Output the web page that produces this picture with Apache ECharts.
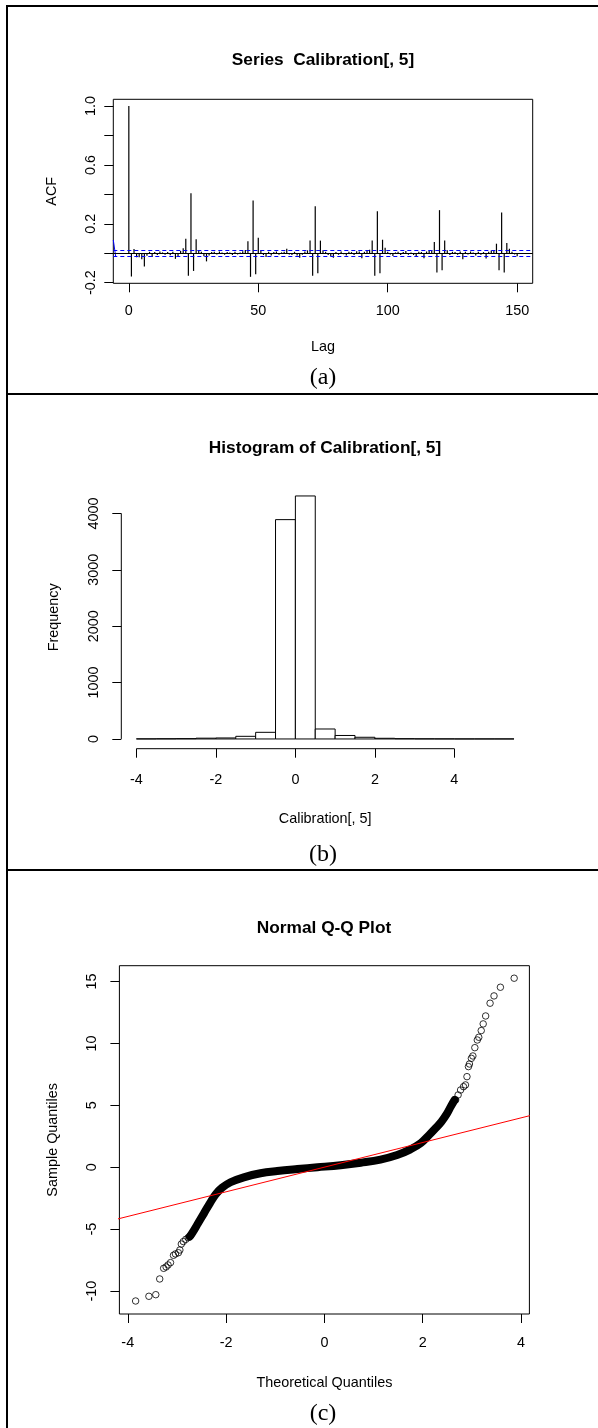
<!DOCTYPE html>
<html>
<head>
<meta charset="utf-8">
<title>Calibration[, 5]: ACF, histogram, normal Q-Q</title>
<script src="https://cdn.jsdelivr.net/npm/echarts@6/dist/echarts.min.js"></script>
<style>
  html, body { margin: 0; padding: 0; background: #fff; }
  #chart { width: 598px; height: 1428px; }
</style>
</head>
<body>
<div id="chart"></div>
<script>
// ---------- data ----------

// (a) autocorrelation, lags 0..150
const acfValues = [
  1.000, -0.158, 0.029, -0.027, -0.027, -0.040, -0.090, -0.016, 0.010, -0.025,
  0.008, -0.012, 0.012, 0.006, -0.010, 0.009, -0.014, 0.011, -0.038, -0.018,
  0.015, 0.034, 0.099, -0.153, 0.407, -0.120, 0.095, 0.022, 0.010, -0.020,
  -0.055, -0.015, 0.008, 0.010, -0.008, 0.012, 0.006, -0.010, 0.009, 0.005,
  -0.012, 0.010, -0.008, 0.006, 0.014, 0.022, 0.081, -0.160, 0.358, -0.142,
  0.106, 0.020, -0.012, -0.025, 0.010, -0.015, 0.008, 0.012, -0.010, 0.006,
  0.010, 0.030, -0.008, -0.012, 0.010, -0.015, -0.030, -0.010, 0.012, 0.020,
  0.086, -0.153, 0.320, -0.135, 0.086, 0.020, 0.010, -0.012, -0.018, -0.030,
  0.008, -0.010, 0.012, -0.006, -0.015, 0.010, 0.008, -0.012, 0.014, 0.012,
  -0.034, 0.010, 0.015, 0.024, 0.086, -0.153, 0.286, -0.135, 0.092, 0.038,
  0.010, -0.008, -0.018, 0.006, 0.010, -0.012, 0.008, 0.015, -0.010, 0.006,
  -0.012, -0.025, 0.010, 0.008, -0.034, 0.012, 0.018, 0.022, 0.077, -0.131,
  0.293, -0.115, 0.086, 0.020, -0.012, 0.010, 0.008, -0.010, 0.012, -0.040,
  0.010, -0.008, 0.012, 0.006, -0.015, 0.010, -0.010, 0.008, -0.036, 0.010,
  0.018, 0.022, 0.065, -0.115, 0.277, -0.131, 0.070, 0.030, 0.010, -0.008,
  -0.020
];
const acfXTicks = [0, 50, 100, 150];
const acfYTicks = [-0.2, 0, 0.2, 0.4, 0.6, 0.8, 1.0];
const acfYLabels = [-0.2, 0.2, 0.6, 1.0];
const acfConfLimit = 0.019;
const acfStub = [[-6, 0.09], [-5.1, -0.02]];

// (b) histogram
const histBreaks = [-4, -3.5, -3, -2.5, -2, -1.5, -1, -0.5, 0, 0.5, 1, 1.5, 2, 2.5, 3, 3.5, 4, 4.5, 5, 5.5];
const histCounts = [2, 4, 6, 14, 18, 47, 118, 3890, 4310, 177, 62, 30, 12, 5, 3, 2, 1, 1, 1];
const histXTicks = [-4, -2, 0, 2, 4];
const histYTicks = [0, 1000, 2000, 3000, 4000];

// (c) normal Q-Q: [theoretical, sample]
const qqLowTail = [
  [-3.84, -10.80], [-3.57, -10.42], [-3.43, -10.29], [-3.35, -9.02], [-3.27, -8.16],
  [-3.22, -8.05], [-3.18, -7.89], [-3.13, -7.70], [-3.07, -7.11], [-3.03, -7.00],
  [-2.97, -6.90], [-2.94, -6.68], [-2.91, -6.20], [-2.87, -6.00], [-2.82, -5.82],
  [-2.77, -5.68], [-2.72, -5.52]
];
const qqBand = [
  [-2.74, -5.60], [-2.69, -5.32], [-2.57, -4.52], [-2.45, -3.72], [-2.33, -2.91],
  [-2.21, -2.18], [-2.08, -1.65], [-1.91, -1.21], [-1.64, -0.81], [-1.30, -0.48],
  [-0.96, -0.30], [-0.55, -0.14], [-0.14, 0.00], [0.33, 0.17], [0.74, 0.37],
  [1.14, 0.62], [1.48, 0.99], [1.75, 1.45], [1.96, 1.95], [2.13, 2.61],
  [2.26, 3.15], [2.38, 3.68], [2.49, 4.31], [2.57, 4.90], [2.65, 5.44]
];
const qqHighTail = [
  [2.67, 5.44], [2.72, 5.84], [2.77, 6.24], [2.83, 6.51], [2.87, 6.65],
  [2.90, 7.32], [2.93, 8.13], [2.95, 8.34], [2.99, 8.80], [3.02, 8.99],
  [3.06, 9.66], [3.11, 10.28], [3.14, 10.50], [3.19, 11.04], [3.23, 11.58],
  [3.28, 12.22], [3.37, 13.25], [3.45, 13.84], [3.58, 14.54], [3.86, 15.27]
];
const qqLine = [[-4.2, -4.17], [4.2, 4.19]];
const qqXTicks = [-4, -2, 0, 2, 4];
const qqYTicks = [-10, -5, 0, 5, 10, 15];

// ---------- chart ----------
const sans = 'Liberation Sans, Arial, Helvetica, sans-serif';
const serif = 'Liberation Serif, Times New Roman, serif';
const axisFont = 14.4;

// plot regions (R extends each data range by 4%)
const acfX = [-6, 156], acfY = [-0.204, 1.046];
const histX = [-4.38, 5.88], histY = [-172.6, 4486.6];
const qqX = [-4.17, 4.17], qqY = [-11.85, 16.28];

function rAxis(grid, range, ticks, labels, margin, rotate, name, nameGap, fmt) {
  return {
    type: 'value',
    gridIndex: grid,
    min: range[0],
    max: range[1],
    axisLine: { show: false, onZero: false },
    splitLine: { show: false },
    axisTick: { show: true, length: 9, customValues: ticks, lineStyle: { color: '#000', width: 1 } },
    axisLabel: {
      customValues: labels,
      margin: margin,
      rotate: rotate,
      color: '#000',
      fontSize: axisFont,
      fontFamily: sans,
      formatter: fmt || (v => String(v))
    },
    name: name,
    nameLocation: 'middle',
    nameGap: nameGap,
    nameTextStyle: { color: '#000', fontSize: axisFont, fontFamily: sans }
  };
}

const chart = echarts.init(document.getElementById('chart'), null, { renderer: 'canvas' });

const option = {
  animation: false,
  backgroundColor: '#fff',
  grid: [
    { left: 113.3, top: 99.3, width: 419.4, height: 184, show: true, borderColor: '#000', borderWidth: 1, backgroundColor: 'transparent', outerBoundsMode: 'none' },
    { left: 121.3, top: 486, width: 407.8, height: 262.7, show: false, outerBoundsMode: 'none' },
    { left: 119.4, top: 965.7, width: 410, height: 348.3, show: true, borderColor: '#000', borderWidth: 1, backgroundColor: 'transparent', outerBoundsMode: 'none' }
  ],
  xAxis: [
    rAxis(0, acfX, acfXTicks, acfXTicks, 21, 0, 'Lag', 57),
    rAxis(1, histX, histXTicks, histXTicks, 24, 0, 'Calibration[, 5]', 63),
    rAxis(2, qqX, qqXTicks, qqXTicks, 22, 0, 'Theoretical Quantiles', 62)
  ],
  yAxis: [
    rAxis(0, acfY, acfYTicks, acfYLabels, 15, 90, 'ACF', 54, v => v.toFixed(1)),
    rAxis(1, histY, histYTicks, histYTicks, 20, 90, 'Frequency', 60),
    rAxis(2, qqY, qqYTicks, qqYTicks, 20, 90, 'Sample Quantiles', 59)
  ],
  graphic: [
    // frame and separators
    { type: 'line', shape: { x1: 6, y1: 6, x2: 598, y2: 6 }, style: { stroke: '#000', lineWidth: 2 } },
    { type: 'line', shape: { x1: 7, y1: 6, x2: 7, y2: 1428 }, style: { stroke: '#000', lineWidth: 2 } },
    { type: 'line', shape: { x1: 7, y1: 394, x2: 598, y2: 394 }, style: { stroke: '#000', lineWidth: 2 } },
    { type: 'line', shape: { x1: 7, y1: 870, x2: 598, y2: 870 }, style: { stroke: '#000', lineWidth: 2 } },
    // plot titles
    { type: 'text', x: 323, y: 60, style: { text: 'Series  Calibration[, 5]', align: 'center', verticalAlign: 'middle', font: 'bold 17.3px ' + sans, fill: '#000' } },
    { type: 'text', x: 325, y: 448, style: { text: 'Histogram of Calibration[, 5]', align: 'center', verticalAlign: 'middle', font: 'bold 17.3px ' + sans, fill: '#000' } },
    { type: 'text', x: 324, y: 928, style: { text: 'Normal Q-Q Plot', align: 'center', verticalAlign: 'middle', font: 'bold 17.3px ' + sans, fill: '#000' } },
    // panel captions
    { type: 'text', x: 323, y: 378, style: { text: '(a)', align: 'center', verticalAlign: 'middle', font: '24px ' + serif, fill: '#000' } },
    { type: 'text', x: 323, y: 855, style: { text: '(b)', align: 'center', verticalAlign: 'middle', font: '24px ' + serif, fill: '#000' } },
    { type: 'text', x: 323, y: 1414, style: { text: '(c)', align: 'center', verticalAlign: 'middle', font: '24px ' + serif, fill: '#000' } }
  ],
  series: [
    // (a) ACF spikes with zero line and confidence bounds
    {
      type: 'bar',
      xAxisIndex: 0,
      yAxisIndex: 0,
      data: acfValues.map((v, lag) => [lag, v]),
      barWidth: 1.2,
      itemStyle: { color: '#000' },
      markLine: {
        silent: true,
        symbol: ['none', 'none'],
        label: { show: false },
        animation: false,
        data: [
          { yAxis: 0, lineStyle: { color: '#000', type: 'solid', width: 1 } },
          { yAxis: acfConfLimit, lineStyle: { color: '#0000ff', type: [4, 3], width: 1 } },
          { yAxis: -acfConfLimit, lineStyle: { color: '#0000ff', type: [4, 3], width: 1 } }
        ]
      }
    },
    {
      type: 'line',
      xAxisIndex: 0,
      yAxisIndex: 0,
      data: acfStub,
      showSymbol: false,
      lineStyle: { color: '#0000ff', width: 1 }
    },
    // (b) histogram bars
    {
      type: 'custom',
      xAxisIndex: 1,
      yAxisIndex: 1,
      data: histCounts.map((c, i) => [histBreaks[i], histBreaks[i + 1], c]),
      encode: { x: [0, 1], y: 2 },
      renderItem: function (params, api) {
        const p0 = api.coord([api.value(0), 0]);
        const p1 = api.coord([api.value(1), api.value(2)]);
        return {
          type: 'rect',
          shape: { x: p0[0], y: p1[1], width: p1[0] - p0[0], height: p0[1] - p1[1] },
          style: { fill: '#fff', stroke: '#000', lineWidth: 1 }
        };
      }
    },
    // R-style axis lines spanning first..last tick
    {
      type: 'line',
      xAxisIndex: 1,
      yAxisIndex: 1,
      clip: false,
      data: [[histXTicks[0], histY[0]], [histXTicks[histXTicks.length - 1], histY[0]]],
      showSymbol: false,
      lineStyle: { color: '#000', width: 1 }
    },
    {
      type: 'line',
      xAxisIndex: 1,
      yAxisIndex: 1,
      clip: false,
      data: [[histX[0], histYTicks[0]], [histX[0], histYTicks[histYTicks.length - 1]]],
      showSymbol: false,
      lineStyle: { color: '#000', width: 1 }
    },
    // (c) Q-Q points: dense middle as a thick trace, sparse tails as open circles
    {
      type: 'line',
      xAxisIndex: 2,
      yAxisIndex: 2,
      data: qqBand,
      smooth: 0.4,
      showSymbol: false,
      lineStyle: { color: '#000', width: 8, cap: 'round', join: 'round' }
    },
    {
      type: 'scatter',
      xAxisIndex: 2,
      yAxisIndex: 2,
      data: qqLowTail.concat(qqHighTail),
      symbol: 'circle',
      symbolSize: 6.5,
      itemStyle: { color: 'rgba(0,0,0,0)', borderColor: '#000', borderWidth: 1 }
    },
    {
      type: 'line',
      xAxisIndex: 2,
      yAxisIndex: 2,
      data: qqLine,
      showSymbol: false,
      lineStyle: { color: '#ff0000', width: 1 }
    }
  ]
};

chart.setOption(option);
window.addEventListener('resize', function () { chart.resize(); });
</script>
</body>
</html>
